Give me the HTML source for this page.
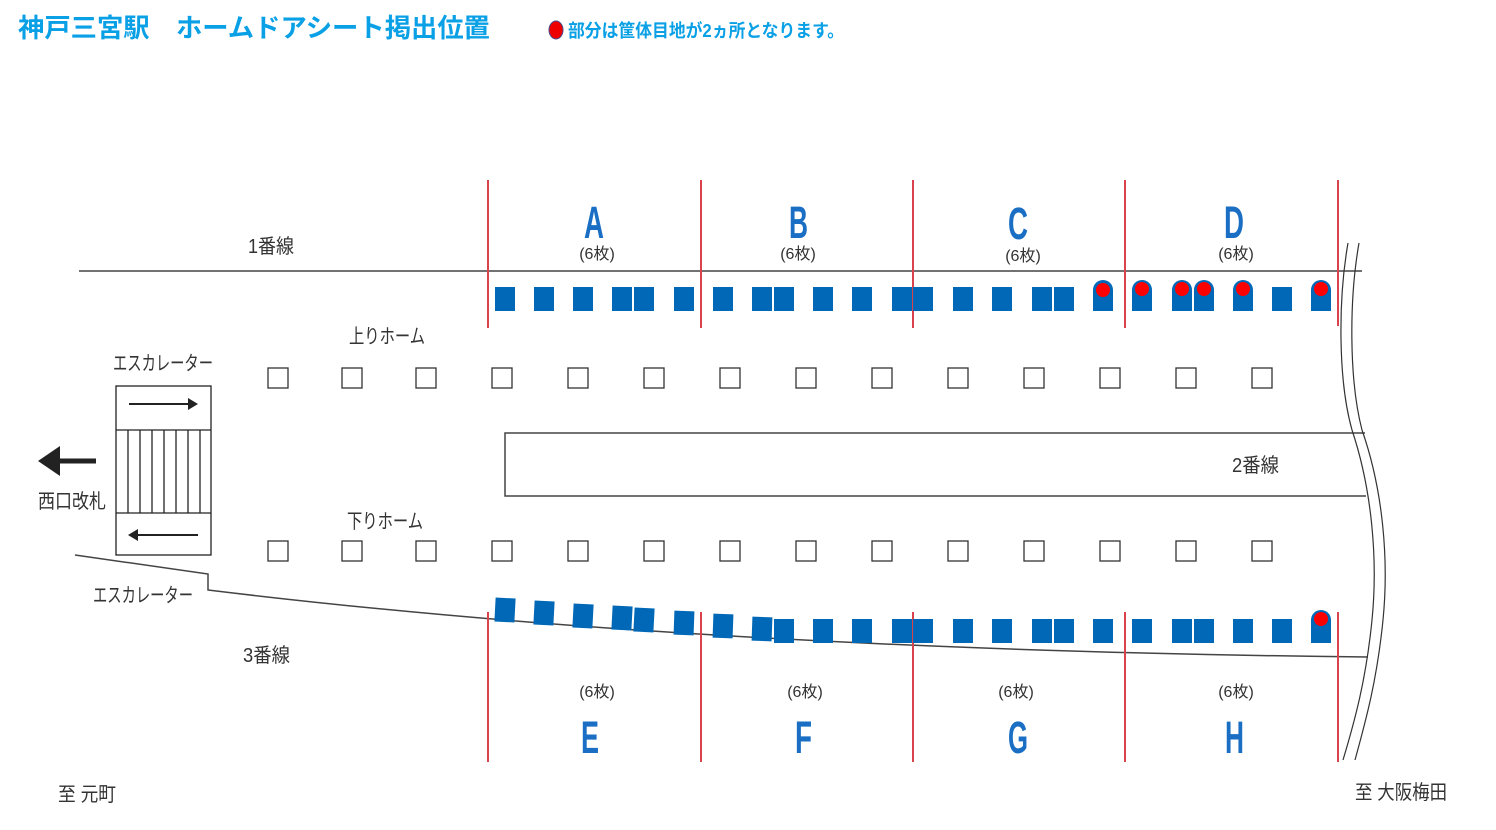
<!DOCTYPE html>
<html><head><meta charset="utf-8"><style>
html,body{margin:0;padding:0;background:#fff;}
svg{display:block;}
text{font-family:"Liberation Sans","Noto Sans CJK JP",sans-serif;}
</style></head><body>
<svg width="1496" height="830" viewBox="0 0 1496 830" xmlns="http://www.w3.org/2000/svg">
<rect width="1496" height="830" fill="#fff"/>
<text x="18" y="37" font-size="26" font-weight="bold" fill="#0aa0e6" textLength="472" lengthAdjust="spacingAndGlyphs">神戸三宮駅　ホームドアシート掲出位置</text>
<ellipse cx="556" cy="30" rx="7" ry="9" fill="#e00" stroke="#4a4a8a" stroke-width="1"/>
<text x="568" y="37" font-size="18" font-weight="bold" fill="#0aa0e6" textLength="276" lengthAdjust="spacingAndGlyphs">部分は筐体目地が2ヵ所となります。</text>

<line x1="79" y1="271" x2="1362" y2="271" stroke="#444" stroke-width="1.5"/>
<path d="M75 555 L208 574 L208 590 Q700 650 1368 657" fill="none" stroke="#444" stroke-width="1.5"/>
<path d="M1365 433 L505 433 L505 496 L1366 496" fill="none" stroke="#444" stroke-width="1.5"/>
<path d="M1348 243 C1338 300 1338 380 1352 430 C1372 490 1378 560 1372 620 C1366 680 1355 720 1343 760" fill="none" stroke="#333" stroke-width="1.2"/>
<path d="M1359 243 C1349 300 1349 380 1362 430 C1383 490 1389 560 1383 620 C1377 680 1366 720 1355 760" fill="none" stroke="#333" stroke-width="1.2"/>

<g stroke="#d9434b" stroke-width="2">
<line x1="488" y1="180" x2="488" y2="328"/><line x1="701" y1="180" x2="701" y2="328"/><line x1="913" y1="180" x2="913" y2="328"/><line x1="1125" y1="180" x2="1125" y2="328"/><line x1="1338" y1="180" x2="1338" y2="326"/>
<line x1="488" y1="612" x2="488" y2="762"/><line x1="701" y1="612" x2="701" y2="762"/><line x1="913" y1="612" x2="913" y2="762"/><line x1="1125" y1="612" x2="1125" y2="762"/><line x1="1338" y1="612" x2="1338" y2="762"/>
</g>

<g fill="#0068b7">
<rect x="495" y="287" width="20" height="24"/><rect x="534" y="287" width="20" height="24"/><rect x="573" y="287" width="20" height="24"/><rect x="612" y="287" width="20" height="24"/><rect x="634" y="287" width="20" height="24"/><rect x="674" y="287" width="20" height="24"/><rect x="713" y="287" width="20" height="24"/><rect x="752" y="287" width="20" height="24"/><rect x="774" y="287" width="20" height="24"/><rect x="813" y="287" width="20" height="24"/><rect x="852" y="287" width="20" height="24"/><rect x="892" y="287" width="20" height="24"/><rect x="913" y="287" width="20" height="24"/><rect x="953" y="287" width="20" height="24"/><rect x="992" y="287" width="20" height="24"/><rect x="1032" y="287" width="20" height="24"/><rect x="1054" y="287" width="20" height="24"/>
<path d="M1093 311 V290 A10 10 0 0 1 1113 290 V311 Z"/><path d="M1132 311 V290 A10 10 0 0 1 1152 290 V311 Z"/><path d="M1172 311 V290 A10 10 0 0 1 1192 290 V311 Z"/><path d="M1194 311 V290 A10 10 0 0 1 1214 290 V311 Z"/><path d="M1233 311 V290 A10 10 0 0 1 1253 290 V311 Z"/>
<rect x="1272" y="287" width="20" height="24"/>
<path d="M1311 311 V290 A10 10 0 0 1 1331 290 V311 Z"/>
</g>
<g fill="#f00">
<circle cx="1103" cy="290" r="7"/><circle cx="1142" cy="289" r="7"/><circle cx="1182" cy="289" r="7"/><circle cx="1204" cy="289" r="7"/><circle cx="1243" cy="289" r="7"/><circle cx="1321" cy="289" r="7"/>
</g>

<g fill="#0068b7">
<rect x="495" y="598" width="20" height="24" transform="rotate(3 505 610)"/>
<rect x="534" y="601" width="20" height="24" transform="rotate(3 544 613)"/>
<rect x="573" y="604" width="20" height="24" transform="rotate(3 583 616)"/>
<rect x="612" y="606" width="20" height="24" transform="rotate(3 622 618)"/>
<rect x="634" y="608" width="20" height="24" transform="rotate(3 644 620)"/>
<rect x="674" y="611" width="20" height="24" transform="rotate(2 684 623)"/>
<rect x="713" y="614" width="20" height="24" transform="rotate(2 723 626)"/>
<rect x="752" y="617" width="20" height="24" transform="rotate(2 762 629)"/>
<rect x="774" y="619" width="20" height="24"/><rect x="813" y="619" width="20" height="24"/><rect x="852" y="619" width="20" height="24"/><rect x="892" y="619" width="20" height="24"/><rect x="913" y="619" width="20" height="24"/><rect x="953" y="619" width="20" height="24"/><rect x="992" y="619" width="20" height="24"/><rect x="1032" y="619" width="20" height="24"/><rect x="1054" y="619" width="20" height="24"/><rect x="1093" y="619" width="20" height="24"/><rect x="1132" y="619" width="20" height="24"/><rect x="1172" y="619" width="20" height="24"/><rect x="1194" y="619" width="20" height="24"/><rect x="1233" y="619" width="20" height="24"/><rect x="1272" y="619" width="20" height="24"/>
<path d="M1311 643 V620 A10 10 0 0 1 1331 620 V643 Z"/>
</g>
<circle cx="1321" cy="619" r="7" fill="#f00"/>

<g fill="#fff" stroke="#333" stroke-width="1.3">
<rect x="268" y="368" width="20" height="20"/><rect x="342" y="368" width="20" height="20"/><rect x="416" y="368" width="20" height="20"/><rect x="492" y="368" width="20" height="20"/><rect x="568" y="368" width="20" height="20"/><rect x="644" y="368" width="20" height="20"/><rect x="720" y="368" width="20" height="20"/><rect x="796" y="368" width="20" height="20"/><rect x="872" y="368" width="20" height="20"/><rect x="948" y="368" width="20" height="20"/><rect x="1024" y="368" width="20" height="20"/><rect x="1100" y="368" width="20" height="20"/><rect x="1176" y="368" width="20" height="20"/><rect x="1252" y="368" width="20" height="20"/>
<rect x="268" y="541" width="20" height="20"/><rect x="342" y="541" width="20" height="20"/><rect x="416" y="541" width="20" height="20"/><rect x="492" y="541" width="20" height="20"/><rect x="568" y="541" width="20" height="20"/><rect x="644" y="541" width="20" height="20"/><rect x="720" y="541" width="20" height="20"/><rect x="796" y="541" width="20" height="20"/><rect x="872" y="541" width="20" height="20"/><rect x="948" y="541" width="20" height="20"/><rect x="1024" y="541" width="20" height="20"/><rect x="1100" y="541" width="20" height="20"/><rect x="1176" y="541" width="20" height="20"/><rect x="1252" y="541" width="20" height="20"/>
</g>

<g stroke="#222" stroke-width="1.3" fill="none">
<rect x="116" y="386" width="95" height="169"/>
<line x1="116" y1="430" x2="211" y2="430"/><line x1="116" y1="513" x2="211" y2="513"/>
<line x1="128" y1="430" x2="128" y2="513"/><line x1="140" y1="430" x2="140" y2="513"/><line x1="152" y1="430" x2="152" y2="513"/><line x1="164" y1="430" x2="164" y2="513"/><line x1="176" y1="430" x2="176" y2="513"/><line x1="188" y1="430" x2="188" y2="513"/><line x1="200" y1="430" x2="200" y2="513"/>
<line x1="129" y1="404" x2="194" y2="404" stroke-width="2"/>
<line x1="134" y1="535" x2="198" y2="535" stroke-width="2"/>
</g>
<path d="M198 404 l-10 -6 v12 z" fill="#222"/>
<path d="M128 535 l10 -6 v12 z" fill="#222"/>
<line x1="58" y1="461" x2="96" y2="461" stroke="#222" stroke-width="5"/>
<path d="M38 461 l22 -15 v30 z" fill="#222"/>

<g font-size="20" fill="#333">
<text x="248" y="253" textLength="46" lengthAdjust="spacingAndGlyphs">1番線</text>
<text x="349" y="343" textLength="76" lengthAdjust="spacingAndGlyphs">上りホーム</text>
<text x="113" y="370" textLength="100" lengthAdjust="spacingAndGlyphs">エスカレーター</text>
<text x="1232" y="472" textLength="47" lengthAdjust="spacingAndGlyphs">2番線</text>
<text x="38" y="508" textLength="68" lengthAdjust="spacingAndGlyphs">西口改札</text>
<text x="347" y="528" textLength="76" lengthAdjust="spacingAndGlyphs">下りホーム</text>
<text x="93" y="602" textLength="100" lengthAdjust="spacingAndGlyphs">エスカレーター</text>
<text x="243" y="662" textLength="47" lengthAdjust="spacingAndGlyphs">3番線</text>
<text x="58" y="801" textLength="58" lengthAdjust="spacingAndGlyphs">至 元町</text>
<text x="1355" y="799" textLength="92" lengthAdjust="spacingAndGlyphs">至 大阪梅田</text>
</g>
<g font-size="16" fill="#333" text-anchor="middle">
<text x="597" y="259">(6枚)</text><text x="798" y="259">(6枚)</text><text x="1023" y="261">(6枚)</text><text x="1236" y="259">(6枚)</text>
<text x="597" y="697">(6枚)</text><text x="805" y="697">(6枚)</text><text x="1016" y="697">(6枚)</text><text x="1236" y="697">(6枚)</text>
</g>
<g font-size="45" font-weight="bold" fill="#1a6fc4">
<text x="584" y="238" textLength="20" lengthAdjust="spacingAndGlyphs">A</text>
<text x="789" y="238" textLength="19" lengthAdjust="spacingAndGlyphs">B</text>
<text x="1008" y="239" textLength="20" lengthAdjust="spacingAndGlyphs">C</text>
<text x="1224" y="238" textLength="20" lengthAdjust="spacingAndGlyphs">D</text>
<text x="581" y="753" textLength="18" lengthAdjust="spacingAndGlyphs">E</text>
<text x="795" y="753" textLength="17" lengthAdjust="spacingAndGlyphs">F</text>
<text x="1008" y="753" textLength="20" lengthAdjust="spacingAndGlyphs">G</text>
<text x="1225" y="753" textLength="19" lengthAdjust="spacingAndGlyphs">H</text>
</g>
</svg>
</body></html>
